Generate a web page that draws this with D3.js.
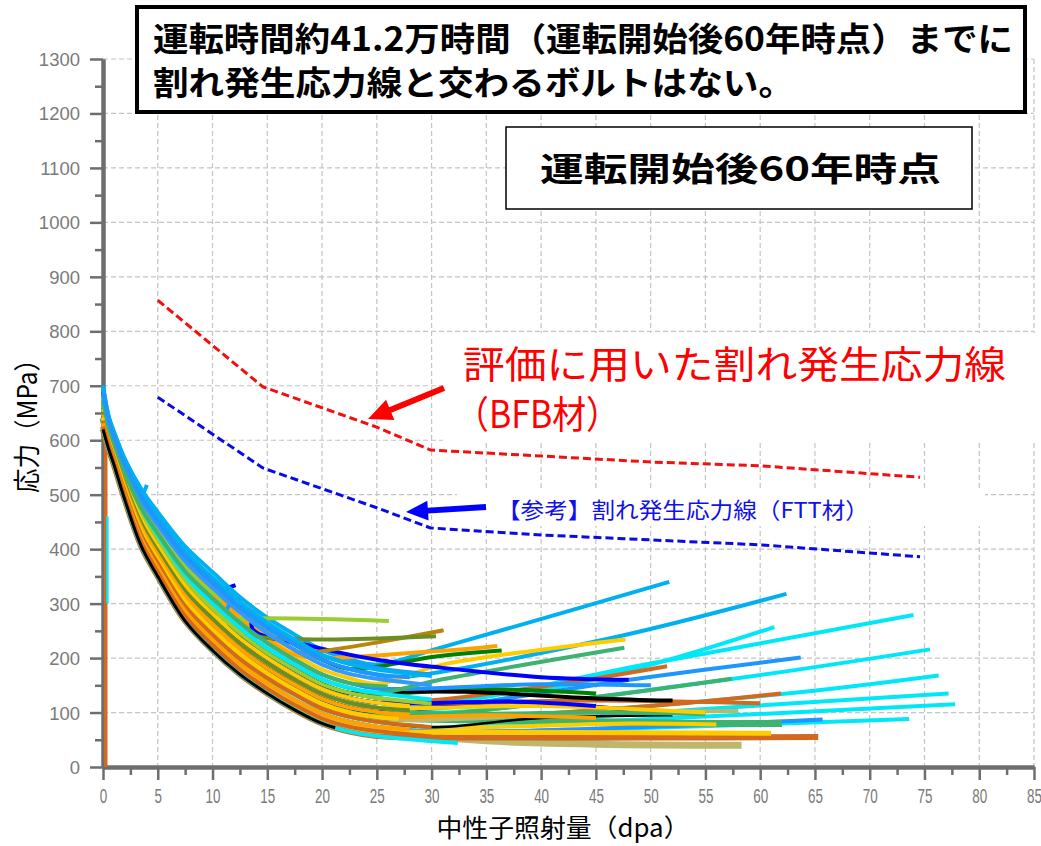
<!DOCTYPE html>
<html>
<head>
<meta charset="utf-8">
<script src="https://d3js.org/d3.v7.min.js"></script>
<style>
    body { margin: 0; background: #fff; }
    svg { display: block; }
    .grid line { stroke: #c4c4c4; stroke-width: 1.2; stroke-dasharray: 5,3; }
    .axis path, .axis line { stroke: #6e6e6e; }
    .axis path { stroke-width: 4; }
    .axis line { stroke-width: 2.5; }
</style>
</head>
<body>
<svg width="1041" height="846"></svg>
<script>
    // axis ticks
    var xTicks = [0, 5, 10, 15, 20, 25, 30, 35, 40, 45, 50, 55, 60, 65, 70, 75, 80, 85];
    var yTicks = [0, 100, 200, 300, 400, 500, 600, 700, 800, 900, 1000, 1100, 1200, 1300];

    // crack initiation stress lines (dpa, MPa)
    var bfbLine = [[5, 857], [14.6, 698], [25, 624], [29.9, 582], [40, 571], [50, 560], [60, 553], [74.6, 532]];
    var fttLine = [[5, 679], [14.6, 549], [25, 476], [29.9, 439], [40, 426], [50, 417], [60, 408], [74.6, 386]];

    // bolt stress relaxation band: dpa positions and stress of each curve level
    var relaxX = [0, 0.5, 1, 2, 3.5, 5, 7.5, 10, 12.5, 15, 17.5, 20, 22.5, 25, 30];
    var relaxLevels = [
        [620, 585, 555, 490, 405, 350, 268, 214, 170, 135, 105, 80, 65, 57, 48],
        [625, 589, 559, 495, 412, 358, 277, 224, 179, 144, 114, 89, 74, 66, 56],
        [631, 593, 563, 500, 419, 366, 286, 233, 189, 154, 123, 98, 83, 74, 65],
        [636, 597, 567, 505, 426, 374, 295, 243, 198, 163, 133, 107, 92, 83, 73],
        [641, 601, 571, 510, 433, 381, 305, 252, 208, 172, 142, 116, 100, 92, 82],
        [647, 605, 575, 515, 440, 389, 314, 262, 217, 181, 151, 125, 109, 101, 90],
        [652, 609, 579, 520, 447, 397, 323, 272, 227, 191, 160, 134, 118, 109, 99],
        [657, 613, 583, 525, 454, 405, 332, 281, 236, 200, 169, 143, 127, 118, 107],
        [663, 617, 587, 530, 461, 413, 341, 291, 246, 209, 179, 152, 136, 127, 116],
        [668, 621, 591, 535, 468, 421, 350, 300, 255, 218, 188, 161, 145, 136, 124],
        [673, 625, 595, 540, 475, 429, 359, 310, 265, 228, 197, 170, 154, 144, 133],
        [679, 629, 599, 545, 482, 437, 368, 320, 274, 237, 206, 179, 163, 153, 141],
        [684, 633, 603, 550, 489, 444, 378, 329, 284, 246, 215, 188, 171, 162, 150],
        [689, 637, 607, 555, 496, 452, 387, 339, 293, 256, 225, 197, 180, 170, 158],
        [695, 641, 611, 560, 503, 460, 396, 348, 303, 265, 234, 206, 189, 179, 167],
        [700, 645, 615, 565, 510, 468, 405, 358, 312, 274, 243, 215, 198, 188, 175]
    ];

    // each bolt: which relaxation level it follows, then its own points from where it leaves the band
    var boltLevel = [11, 15, 13, 8, 7, 6, 6, 5, 5, 3, 3, 5, 2, 2, 1, 0, 1, 0, 4, 4, 3, 3, 5, 6, 8, 4, 6, 7, 8, 7, 8,
        10, 9, 11, 11, 13, 13, 12, 9, 11, 9, 14, 12, 15, 9, 8, 7, 6, 5, 4, 3, 2, 1, 10, 13, 0];
    var boltTail = [
        [[9, 338], [10.5, 326], [12.1, 334]],
        [[25, 188], [31, 220], [51.7, 340]],
        [[27, 165], [46, 235], [62.4, 318]],
        [[30, 116], [50, 190], [74, 279]],
        [[30, 107], [47.6, 175], [61.3, 257]],
        [[30, 99], [55, 155], [75.5, 216]],
        [[28, 104], [49.4, 164], [63.7, 201]],
        [[30, 90], [60, 130], [76.3, 168]],
        [[28, 94], [43.2, 124], [57.4, 162]],
        [[30, 73], [50, 100], [77.2, 135]],
        [[30, 73], [50, 88], [77.8, 115]],
        [[30, 90], [50, 112], [61.9, 135]],
        [[30, 65], [50, 72], [73.6, 88]],
        [[30, 65], [50, 74], [65.7, 87]],
        [[25, 66], [35, 48], [45, 42], [58.3, 40]],
        [[25, 57], [35, 54], [50, 54], [65.3, 55]],
        [[25, 66], [35, 64], [50, 63], [61, 62]],
        [[25, 57], [32.4, 44]],
        [[25, 92], [40, 85], [55, 80], [62, 80]],
        [[28, 86], [45, 100], [58, 103]],
        [[30, 73], [48, 80], [56, 78]],
        [[30, 73], [40, 90], [52, 95]],
        [[25, 101], [36, 120], [51, 100]],
        [[30, 99], [45, 100], [55, 97]],
        [[28, 120], [40.2, 148], [51.5, 185]],
        [[25, 92], [35, 95], [45, 90]],
        [[25, 109], [40, 112], [55, 100]],
        [[25, 118], [45, 122], [60, 117]],
        [[22.5, 136], [35, 143], [45, 135]],
        [[25, 118], [38, 120], [45, 112]],
        [[22.5, 136], [27, 138], [33, 138], [45, 126], [52, 122]],
        [[25, 144], [40, 152], [50, 150]],
        [[25, 136], [31, 161], [47.6, 219]],
        [[25, 153], [31, 188], [47.7, 234]],
        [[17.5, 206], [30, 212], [36, 222]],
        [[22.5, 180], [30.4, 203], [36.4, 214]],
        [[13.5, 285], [13.7, 252], [19, 222], [25, 197], [31, 182], [40, 165], [48, 160]],
        [[18, 210], [31.1, 251]],
        [[12, 260], [14, 240], [30.4, 240]],
        [[10.6, 315], [10.8, 266], [13, 272], [26.1, 268]],
        [[11, 282], [12, 312], [13, 290], [15, 262], [20, 205], [25, 182], [30, 170]],
        [[25, 179], [30, 167]],
        [[25, 162], [30, 150]],
        [[3.5, 510], [3.7, 505], [4, 518]],
        [[25, 136], [30, 124]],
        [[25, 127], [30, 116]],
        [[25, 118], [28, 112]],
        [[25, 109], [28, 104]],
        [[25, 101], [28, 96]],
        [[25, 92], [27, 88]],
        [[25, 83], [30, 73]],
        [[25, 74], [28, 69]],
        [[25, 66], [30, 56]],
        [[22.5, 154], [26, 148]],
        [[25, 170], [28, 165]],
        [[21.2, 72]]
    ];
    // initial bolt loading at zero dose
    var preloadLines = [[[0.25, 0], [0.25, 640]], [[0.4, 300], [0.4, 460]]];

    // styles
    var C = {
        lb: "#00b0f0", cy: "#00e8f8", dg: "#1e96ff", sg: "#3cb371", ch: "#d2691e", tan: "#bdb76b",
        gd: "#ffcc00", bk: "#000000", nv: "#000080", or: "#ffa200", gr: "#008000", bl: "#0000ff",
        go: "#b8860b", od: "#6b8e23", yg: "#9acd32", db: "#3399ff"
    };
    var boltColor = [C.bl, C.lb, C.lb, C.cy, C.cy, C.cy, C.dg, C.cy, C.sg, C.cy, C.cy, C.ch, C.cy, C.dg, C.tan, C.ch, C.gd,
        C.cy, C.sg, C.tan, C.gd, C.bk, C.nv, C.sg, C.ch, C.or, C.gd, C.ch, C.gr, C.bl, C.bk,
        C.dg, C.sg, C.gd, C.or, C.gr, C.bl, C.go, C.od, C.yg, C.dg, C.lb, C.db, C.lb,
        C.cy, C.yg, C.gd, C.od, C.or, C.gd, C.ch, C.or, C.ch, C.sg, C.dg, C.bk];
    var boltWidth = boltColor.map(function (c, i) {
        if (i === 14 || i === 18) return 7;
        if (i === 15) return 6;
        if (i === 16) return 5;
        if (i === 21) return 2.5;
        if (i === boltColor.length - 1) return 3;
        return 4;
    });

    var svg = d3.select("svg");
    var x = d3.scaleLinear().domain([0, 85]).range([103, 1034]);
    var y = d3.scaleLinear().domain([0, 1300]).range([767, 59]);

    // grid
    var grid = svg.append("g").attr("class", "grid");
    grid.selectAll("line.v").data(xTicks.slice(1)).enter().append("line")
        .attr("x1", d => x(d)).attr("x2", d => x(d)).attr("y1", y(1300)).attr("y2", y(0));
    grid.selectAll("line.h").data(yTicks.slice(1)).enter().append("line")
        .attr("x1", x(0)).attr("x2", x(85)).attr("y1", d => y(d)).attr("y2", d => y(d));

    // white patches under the annotations
    svg.append("rect").attr("x", 443).attr("y", 333).attr("width", 595).attr("height", 110).attr("fill", "#fff");
    svg.append("rect").attr("x", 457).attr("y", 490).attr("width", 528).attr("height", 36).attr("fill", "#fff");

    // axes
    svg.append("g").attr("class", "axis").attr("transform", "translate(0," + y(0) + ")")
        .call(d3.axisBottom(x).tickValues(d3.range(2.5, 85, 5)).tickSize(8).tickSizeOuter(0).tickFormat(""));
    var xa = svg.append("g").attr("class", "axis").attr("transform", "translate(0," + y(0) + ")")
        .call(d3.axisBottom(x).tickValues(xTicks).tickSize(13).tickSizeOuter(0));
    xa.selectAll("text").attr("y", 0).attr("dy", 0)
        .attr("transform", "translate(0,36) scale(0.64,1)")
        .attr("font-family", "Liberation Sans, Arial, sans-serif").attr("font-size", 21).attr("fill", "#7a7a7a");
    svg.append("g").attr("class", "axis").attr("transform", "translate(" + x(0) + ",0)")
        .call(d3.axisLeft(y).tickValues(d3.range(50, 1300, 100)).tickSize(8).tickSizeOuter(0).tickFormat(""));
    var ya = svg.append("g").attr("class", "axis").attr("transform", "translate(" + x(0) + ",0)")
        .call(d3.axisLeft(y).tickValues(yTicks).tickSize(13).tickSizeOuter(0).tickFormat(d3.format("d")));
    ya.selectAll("text").attr("x", -23).attr("dy", "0.35em")
        .attr("font-family", "Liberation Sans, Arial, sans-serif").attr("font-size", 18.5).attr("fill", "#7a7a7a");

    // bolts
    var boltLine = d3.line().x(d => x(d[0])).y(d => y(d[1])).curve(d3.curveCatmullRom.alpha(0.5));
    function boltPoints(i) {
        var lv = relaxLevels[boltLevel[i]], t = boltTail[i];
        var pts = relaxX.map(function (xx, j) { return [xx, lv[j]]; }).filter(p => p[0] < t[0][0]);
        return pts.concat(t);
    }
    svg.append("g").selectAll("path").data(preloadLines).enter().append("path")
        .attr("d", d3.line().x(d => x(d[0])).y(d => y(d[1])))
        .attr("fill", "none").attr("stroke", (d, i) => i ? C.cy : C.ch).attr("stroke-width", (d, i) => i ? 2.5 : 3.5);
    svg.append("g").selectAll("path").data(boltTail).enter().append("path")
        .attr("d", (d, i) => boltLine(boltPoints(i)))
        .attr("fill", "none")
        .attr("stroke", (d, i) => boltColor[i])
        .attr("stroke-width", (d, i) => boltWidth[i])
        .attr("stroke-linejoin", "round");

    // crack initiation lines
    var straight = d3.line().x(d => x(d[0])).y(d => y(d[1]));
    svg.append("path").datum(bfbLine).attr("d", straight).attr("fill", "none")
        .attr("stroke", "#f01010").attr("stroke-width", 3).attr("stroke-dasharray", "8,4");
    svg.append("path").datum(fttLine).attr("d", straight).attr("fill", "none")
        .attr("stroke", "#0a0ae6").attr("stroke-width", 3).attr("stroke-dasharray", "8,4");

    var jp = "'Noto Sans CJK JP', 'Noto Sans CJK SC', sans-serif";
    svg.append("text").attr("x", 563).attr("y", 837).attr("text-anchor", "middle")
        .attr("font-family", jp).attr("font-size", 25).attr("textLength", 253).attr("lengthAdjust", "spacingAndGlyphs")
        .text("中性子照射量（dpa）");
    svg.append("text").attr("transform", "translate(37,420) rotate(-90)").attr("text-anchor", "middle")
        .attr("font-family", jp).attr("font-size", 27).attr("textLength", 146).attr("lengthAdjust", "spacingAndGlyphs")
        .text("応力（MPa）");

    // title boxes
    svg.append("rect").attr("x", 137).attr("y", 7).attr("width", 888).attr("height", 105)
        .attr("fill", "#fff").attr("stroke", "#000").attr("stroke-width", 4);
    svg.append("text").attr("x", 153).attr("y", 51).attr("font-family", jp).attr("font-weight", 700)
        .attr("font-size", 33).attr("textLength", 860).attr("lengthAdjust", "spacingAndGlyphs")
        .text("運転時間約41.2万時間（運転開始後60年時点）までに");
    svg.append("text").attr("x", 153).attr("y", 95).attr("font-family", jp).attr("font-weight", 700)
        .attr("font-size", 33).attr("textLength", 641).attr("lengthAdjust", "spacingAndGlyphs")
        .text("割れ発生応力線と交わるボルトはない。");
    svg.append("rect").attr("x", 506).attr("y", 127).attr("width", 466).attr("height", 82)
        .attr("fill", "#fff").attr("stroke", "#000").attr("stroke-width", 1.5);
    svg.append("text").attr("x", 540).attr("y", 181).attr("font-family", jp).attr("font-weight", 700)
        .attr("font-size", 33).attr("textLength", 401).attr("lengthAdjust", "spacingAndGlyphs")
        .text("運転開始後60年時点");

    // annotations
    svg.append("text").attr("x", 463).attr("y", 378).attr("font-family", jp).attr("fill", "#ff0000")
        .attr("font-size", 38).attr("textLength", 543).attr("lengthAdjust", "spacingAndGlyphs")
        .text("評価に用いた割れ発生応力線");
    svg.append("text").attr("x", 455).attr("y", 428).attr("font-family", jp).attr("fill", "#ff0000")
        .attr("font-size", 38).attr("textLength", 165).attr("lengthAdjust", "spacingAndGlyphs")
        .text("（BFB材）");
    svg.append("text").attr("x", 497).attr("y", 518).attr("font-family", jp).attr("fill", "#1010e8")
        .attr("font-size", 22).attr("textLength", 372).attr("lengthAdjust", "spacingAndGlyphs")
        .text("【参考】割れ発生応力線（FTT材）");

    function arrow(x1, y1, x2, y2, color, w, hl, hw) {
        var dx = x2 - x1, dy = y2 - y1, L = Math.sqrt(dx * dx + dy * dy);
        var ux = dx / L, uy = dy / L, nx = -uy, ny = ux;
        var bx = x2 - ux * hl, by = y2 - uy * hl;
        var p = [[x1 + nx * w / 2, y1 + ny * w / 2], [bx + nx * w / 2, by + ny * w / 2], [bx + nx * hw / 2, by + ny * hw / 2],
        [x2, y2], [bx - nx * hw / 2, by - ny * hw / 2], [bx - nx * w / 2, by - ny * w / 2], [x1 - nx * w / 2, y1 - ny * w / 2]];
        svg.append("path").attr("d", "M" + p.join("L") + "Z").attr("fill", color);
    }
    arrow(444, 388, 368, 419, "#ff0000", 6, 24, 22);
    arrow(486, 507, 406, 512, "#0000ff", 6, 22, 20);
</script>
</body>
</html>
